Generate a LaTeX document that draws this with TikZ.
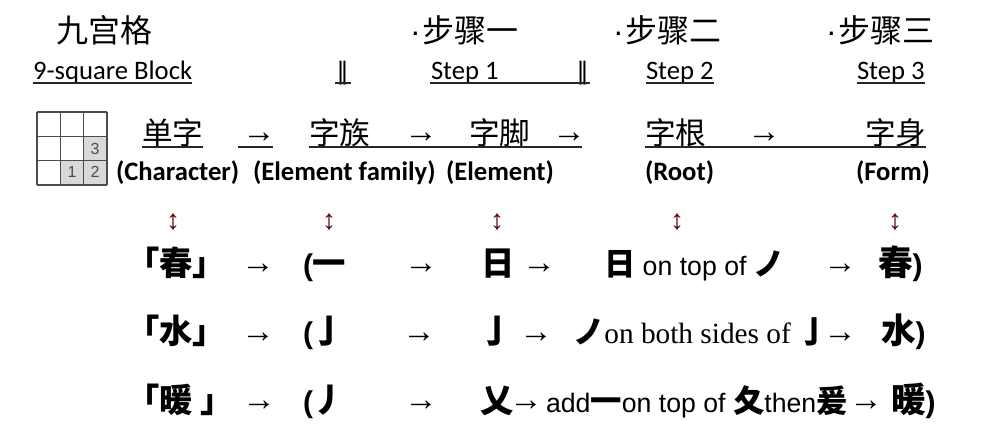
\documentclass[tikz,border=0pt]{standalone}
\usepackage{fontspec}
\newfontfamily\cjk{Noto Sans CJK SC}
\newfontfamily\calf{Carlito}
\newfontfamily\arialf{Liberation Sans}
\newfontfamily\timesf{Liberation Serif}
\newfontfamily\symf{DejaVu Sans}
\newcommand\lp{{\arialf\bfseries\fontsize{22.5}{22.5}\selectfont(}}
\newcommand\rp{{\arialf\bfseries\fontsize{22.5}{22.5}\selectfont)}}
\newcommand\mdot{{\arialf·}\hspace{1.5pt}}
\newcommand\lat[1]{{\arialf\mdseries\fontsize{20}{20}\selectfont{}#1}}
\newcommand\tms[1]{{\timesf\mdseries\fontsize{22}{22}\selectfont{}#1}}
\begin{document}
\begin{tikzpicture}[x=0.75pt, y=-0.75pt, inner sep=0pt, outer sep=0pt,
  head/.style={anchor=base west, font=\cjk\fontsize{24}{24}\selectfont},
  steplbl/.style={anchor=base west, font=\calf\fontsize{20}{20}\selectfont},
  bar/.style={anchor=base, font=\symf\fontsize{18}{18}\selectfont},
  term/.style={anchor=base west, font=\cjk\fontsize{23}{23}\selectfont},
  gloss/.style={anchor=base west, font=\calf\bfseries\fontsize{20}{20}\selectfont},
  arr/.style={anchor=base, yshift=1.5pt, font=\arialf\fontsize{25}{25}\selectfont},
  updown/.style={text=black!65!red, font=\arialf\fontsize{21}{21}\selectfont},
  ex/.style={anchor=base west, font=\cjk\bfseries\fontsize{25}{25}\selectfont},
  phrase/.style={anchor=base west, font=\cjk\bfseries\fontsize{23.5}{23.5}\selectfont},
  result/.style={anchor=base west, font=\cjk\bfseries\fontsize{26}{26}\selectfont},
  uline/.style={line width=1.5pt, black!85},
  gridln/.style={line width=1.2pt, black!70},
  num/.style={font=\arialf\fontsize{12}{12}\selectfont, text=black!70}]
\useasboundingbox (0,0) rectangle (986,442);

\node[head] (jiugong) at (56,43) {九宫格};
\node[head] (step1cn) at (410,43) {\mdot 步骤一};
\node[head] (step2cn) at (613,43) {\mdot 步骤二};
\node[head] (step3cn) at (826,43) {\mdot 步骤三};

\node[steplbl] (block) at (33,80) {9-square Block};
\node[bar] (bar1) at (342.5,80) {‖};
\node[steplbl] (step1) at (431,80) {Step 1};
\node[bar] (bar2) at (582.5,80) {‖};
\node[steplbl] (step2) at (646,80) {Step 2};
\node[steplbl] (step3) at (857,80) {Step 3};
\draw[uline] ([yshift=-2.3pt]block.base west) -- ([yshift=-2.3pt]block.base east);
\draw[uline] ([xshift=-5.6pt,yshift=-2.3pt]bar1.base) -- ([xshift=6.4pt,yshift=-2.3pt]bar1.base);
\draw[uline] ([xshift=-0.75pt,yshift=-2.3pt]step1.base west) -- ([xshift=5.6pt,yshift=-2.3pt]bar2.base);
\draw[uline] ([yshift=-2.3pt]step2.base west) -- ([yshift=-2.3pt]step2.base east);
\draw[uline] ([yshift=-2.3pt]step3.base west) -- ([yshift=-2.3pt]step3.base east);

\fill[black!15] (83.7,136.3) rectangle (107,160.7) (60.3,160.7) rectangle (107,185);
\foreach \i in {0,...,3} {
  \draw[gridln] (37+\i*23.33,112) -- (37+\i*23.33,185);
  \draw[gridln] (37,112+\i*24.33) -- (107,112+\i*24.33);
}
\node[num] (n3) at (95,149) {3};
\node[num] (n1) at (72,172) {1};
\node[num] (n2) at (95,172) {2};

\node[term] (danzi) at (142,145) {单字};
\node[arr] (a1) at (259,145) {→};
\node[term] (zizu) at (309,145) {字族};
\node[arr] (a2) at (421,145) {→};
\node[term] (zijiao) at (469,145) {字脚};
\node[arr] (a3) at (569,145) {→};
\node[term] (zigen) at (645,145) {字根};
\node[arr] (a4) at (764,145) {→};
\node[term] (zishen) at (865,145) {字身};
\draw[uline] ([yshift=-1.5pt]danzi.base west) -- ([yshift=-1.5pt]danzi.base east);
\draw[uline] ([xshift=-15.75pt,yshift=-3pt]a1.base) -- ([xshift=10.5pt,yshift=-3pt]a1.base);
\draw[uline] ([yshift=-1.5pt]zizu.base west) -- ([xshift=9.75pt,yshift=-3pt]a3.base);
\draw[uline] ([yshift=-1.5pt]zigen.base west) -- ([yshift=-1.5pt]zishen.base east);

\node[gloss] (character) at (116,181) {(Character)};
\node[gloss] (family) at (253,181) {(Element family)};
\node[gloss] (element) at (446,181) {(Element)};
\node[gloss] (root) at (645,181) {(Root)};
\node[gloss] (form) at (856,181) {(Form)};

\foreach \x/\n in {173/1,329/2,497/3,677/4,895/5}
  \node[updown] (ud\n) at (\x,222) {↕};

\node[ex, anchor=base] (chun) at (176,276) {「春」};
\node[arr] (c1) at (258,276) {→};
\node[ex] (chun2) at (303,276) {\lp 一};
\node[arr] (c2) at (421,276) {→};
\node[ex, anchor=base] (chun3) at (498,276) {日};
\node[arr] (c3) at (539,276) {→};
\node[phrase] (chun4) at (604,276) {日\lat{ on top of }ノ};
\node[arr] (c4) at (840,276) {→};
\node[result] (chun5) at (878,276) {春\rp};

\node[ex, anchor=base] (shui) at (176,344) {「水」};
\node[arr] (s1) at (258,344) {→};
\node[ex] (shui2) at (303,344) {\lp 亅};
\node[arr] (s2) at (419,344) {→};
\node[ex, anchor=base] (shui3) at (497,344) {亅};
\node[arr] (s3) at (536,344) {→};
\node[phrase] (shui4) at (573,344) {ノ\tms{on both sides of }亅};
\node[arr] (s4) at (840,344) {→};
\node[result] (shui5) at (881,344) {水\rp};

\node[ex, anchor=base] (nuan) at (180,412) {「暖\hspace{6pt}」};
\node[arr] (w1) at (259,412) {→};
\node[ex] (nuan2) at (303,412) {\lp 丿};
\node[arr] (w2) at (421,412) {→};
\node[ex, anchor=base] (nuan3) at (497,412) {乂};
\node[arr] (w3) at (526,412) {→};
\node[phrase] (nuan4) at (546,412) {\lat{add}一\lat{on top of }夂\lat{then}爰};
\node[arr] (w4) at (866,412) {→};
\node[result] (nuan5) at (891,412) {暖\rp};
\end{tikzpicture}
\end{document}
